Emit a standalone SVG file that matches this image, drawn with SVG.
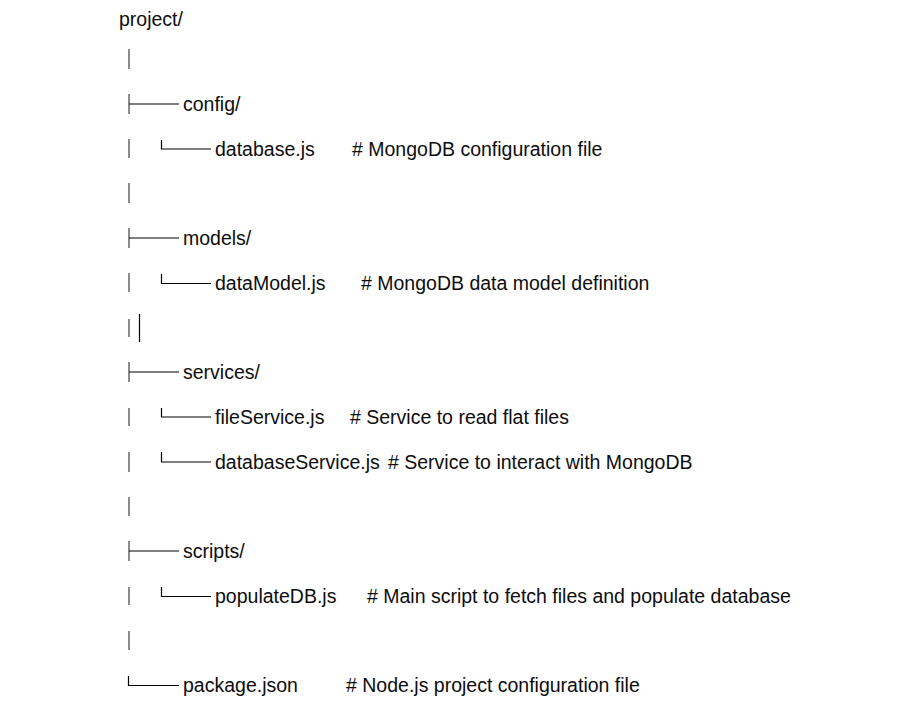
<svg xmlns="http://www.w3.org/2000/svg" width="914" height="727" viewBox="0 0 914 727">
<style>
  text { font-family: "Liberation Sans", Arial, sans-serif; font-size: 19.5px; fill: #0d0d0d; }
  .bar { stroke: #8c8c8c; stroke-width: 2; fill: none; }
  .ln { stroke: #000; stroke-width: 1.2; fill: none; }
</style>
<rect width="914" height="727" fill="#fff"/>
<g id="connectors">
  <line class="bar" x1="129" y1="49" x2="129" y2="69"/>
  <line class="bar" x1="129" y1="139" x2="129" y2="158"/>
  <line class="bar" x1="129" y1="183" x2="129" y2="203"/>
  <line class="bar" x1="129" y1="273" x2="129" y2="292"/>
  <line class="bar" x1="129" y1="319" x2="129" y2="337"/>
  <line class="ln" x1="139.5" y1="314" x2="139.5" y2="342"/>
  <line class="bar" x1="129" y1="408" x2="129" y2="426"/>
  <line class="bar" x1="129" y1="452" x2="129" y2="472"/>
  <line class="bar" x1="129" y1="497" x2="129" y2="516"/>
  <line class="bar" x1="129" y1="587" x2="129" y2="605"/>
  <line class="bar" x1="129" y1="631" x2="129" y2="650"/>
  <line class="bar" x1="129" y1="94" x2="129" y2="114"/>
  <line class="ln" x1="129" y1="104" x2="179" y2="104"/>
  <line class="bar" x1="129" y1="228" x2="129" y2="248"/>
  <line class="ln" x1="129" y1="238" x2="179" y2="238"/>
  <line class="bar" x1="129" y1="362" x2="129" y2="382"/>
  <line class="ln" x1="129" y1="372" x2="179" y2="372"/>
  <line class="bar" x1="129" y1="541" x2="129" y2="561"/>
  <line class="ln" x1="129" y1="551" x2="179" y2="551"/>
  <path class="ln" d="M128.5,676 V685.5 H179"/>
  <path class="ln" d="M161.5,140 V149 H211"/>
  <path class="ln" d="M161.5,274 V283.5 H211"/>
  <path class="ln" d="M161.5,408 V417 H211"/>
  <path class="ln" d="M161.5,452 V462 H211"/>
  <path class="ln" d="M161.5,587 V596.5 H211"/>
</g>
<g id="project"><text x="119" y="26">project/</text></g>
<g id="config"><text x="183" y="111">config/</text></g>
<g id="database"><text x="215" y="156">database.js</text><text x="352" y="156"># MongoDB configuration file</text></g>
<g id="models"><text x="183" y="245">models/</text></g>
<g id="dataModel"><text x="215" y="290">dataModel.js</text><text x="361" y="290"># MongoDB data model definition</text></g>
<g id="services"><text x="183" y="379">services/</text></g>
<g id="fileService"><text x="215" y="424">fileService.js</text><text x="350" y="424"># Service to read flat files</text></g>
<g id="databaseService"><text x="215" y="469">databaseService.js</text><text x="388" y="469"># Service to interact with MongoDB</text></g>
<g id="scripts"><text x="183" y="558">scripts/</text></g>
<g id="populateDB"><text x="215" y="603">populateDB.js</text><text x="367" y="603"># Main script to fetch files and populate database</text></g>
<g id="packagejson"><text x="183" y="692">package.json</text><text x="346" y="692"># Node.js project configuration file</text></g>
</svg>
